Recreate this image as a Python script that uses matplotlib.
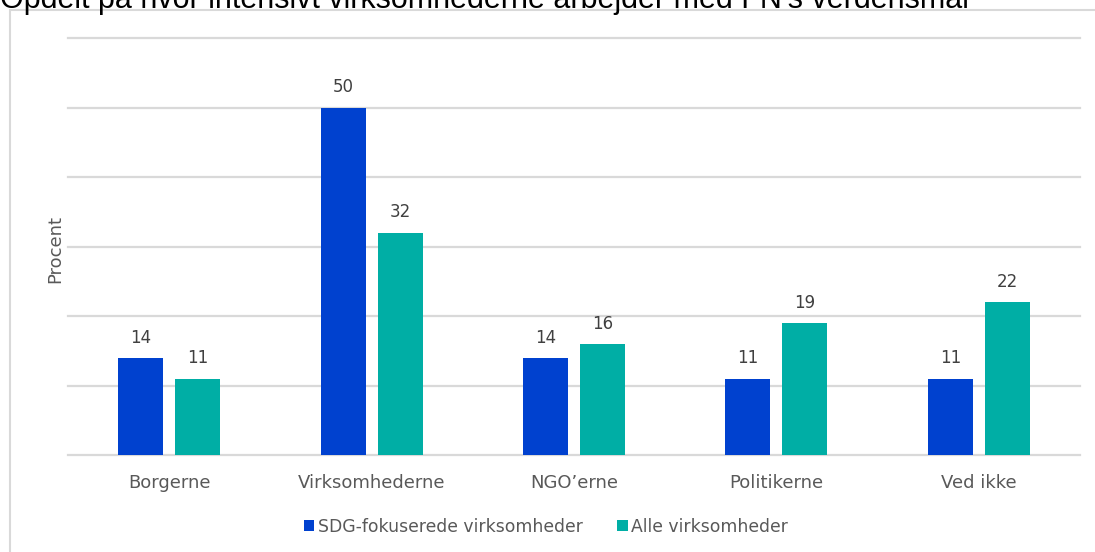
import matplotlib
matplotlib.use("Agg")
import matplotlib.pyplot as plt
from matplotlib.patches import Rectangle
import numpy as np

categories = ["Borgerne", "Virksomhederne", "NGO\u2019erne", "Politikerne", "Ved ikke"]
sdg_values = [14, 50, 14, 11, 11]
alle_values = [11, 32, 16, 19, 22]
series_names = ["SDG-fokuserede virksomheder", "Alle virksomheder"]
title = "Opdelt på hvor intensivt virksomhederne arbejder med FN's verdensmål"
ylabel = "Procent"

blue = "#0041CF"
teal = "#00AEA5"
grid_c = "#D9D9D9"
txt_c = "#595959"
lbl_c = "#404040"

plt.rcParams['font.family'] = ['DejaVu Sans']

W, H = 1095, 552
fig = plt.figure(figsize=(W/100, H/100), dpi=100)
ax = fig.add_axes([68/W, 1-455/H, (1080-68)/W, (455-38)/H])

x = np.arange(len(categories))
bw = 0.222
off = 0.141
b1 = ax.bar(x - off, sdg_values, bw, color=blue, label=series_names[0], zorder=3)
b2 = ax.bar(x + off, alle_values, bw, color=teal, label=series_names[1], zorder=3)
for bars in (b1, b2):
    ax.bar_label(bars, padding=8, fontsize=12, color=lbl_c)

ax.set_xlim(-0.5, len(categories) - 0.5)
ax.set_ylim(0, 60)
ax.set_yticks(np.arange(0, 61, 10))
ax.yaxis.grid(True, color=grid_c, linewidth=1.6, zorder=0)
for gl in ax.get_ygridlines():
    gl.set_clip_on(False)
ax.tick_params(axis='y', length=0, labelleft=False)
ax.tick_params(axis='x', length=0, pad=14, labelsize=13, labelcolor=txt_c)
ax.set_xticks(x)
ax.set_xticklabels(categories)
for s in ax.spines.values():
    s.set_visible(False)
ax.set_ylabel(ylabel, fontsize=13, color=txt_c)
ax.yaxis.set_label_coords(-4/1012, (455-249)/417)

leg = fig.legend(loc='center', bbox_to_anchor=(546/W, 1-527/H), ncol=2, frameon=False,
                 fontsize=12.4, handlelength=0.6, handleheight=0.6, handletextpad=0.2,
                 columnspacing=2.0, labelcolor=txt_c)

# outer chart border
fig.patches.append(Rectangle((10/W, -0.1), 1.2, 1-10/H+0.1, transform=fig.transFigure,
                             fill=False, edgecolor=grid_c, linewidth=1.5, zorder=0))

fig.text(0/W, 1-8/H, title, fontsize=22, family='Liberation Sans', color='black',
         ha='left', va='baseline')

fig.savefig("out.png", dpi=100)
